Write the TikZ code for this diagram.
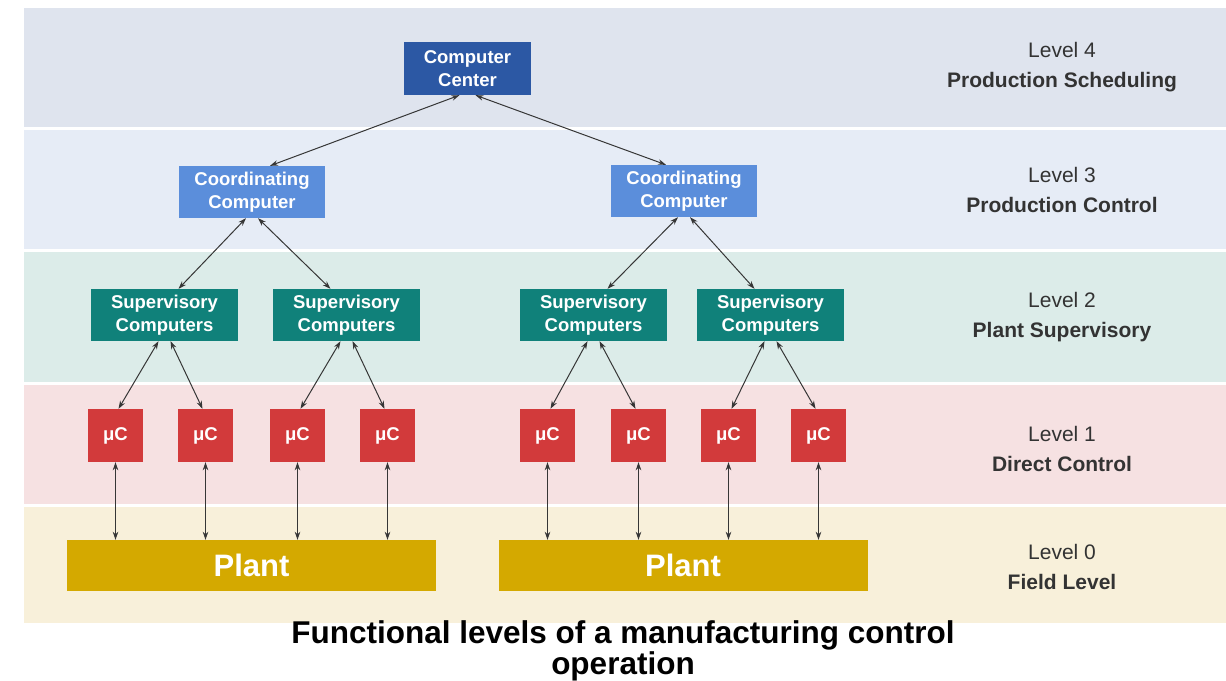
\documentclass[tikz,border=0pt]{standalone}
\usepackage{fontspec}
\setmainfont{Liberation Sans}
\usetikzlibrary{arrows.meta}
\definecolor{bandfour}{HTML}{DFE4EE}
\definecolor{bandthree}{HTML}{E6ECF6}
\definecolor{bandtwo}{HTML}{DCECE9}
\definecolor{bandone}{HTML}{F6E1E2}
\definecolor{bandzero}{HTML}{F8F0DA}
\definecolor{ccblue}{HTML}{2C58A4}
\definecolor{coblue}{HTML}{5B8EDB}
\definecolor{supteal}{HTML}{10817A}
\definecolor{mcred}{HTML}{D23A3B}
\definecolor{plantgold}{HTML}{D4A900}
\definecolor{labelgray}{HTML}{333333}
\definecolor{linkgray}{HTML}{363636}

\begin{document}
\begin{tikzpicture}[x=1pt,y=-1pt,
    box/.style={text=white, align=center, inner sep=0pt, font=\bfseries\fontsize{18.5}{23}\selectfont},
    ccbox/.style={box, fill=ccblue, minimum width=127pt, minimum height=53pt},
    coordbox/.style={box, fill=coblue, minimum width=146pt, minimum height=52pt},
    supbox/.style={box, fill=supteal, minimum width=147pt, minimum height=52pt},
    mcbox/.style={box, fill=mcred, minimum width=55pt, minimum height=53pt},
    plantbox/.style={box, fill=plantgold, minimum width=369pt, minimum height=51pt, font=\bfseries\fontsize{31}{36}\selectfont},
    levellabel/.style={text=labelgray, align=center, font=\fontsize{21}{30}\selectfont},
    caption/.style={text=black, align=center, font=\bfseries\fontsize{31.5}{28}\selectfont},
    link/.style={draw=linkgray, line width=1pt, {Stealth[length=8pt,width=5.5pt]}-{Stealth[length=8pt,width=5.5pt]}}
]
    \useasboundingbox (0,0) rectangle (1226,680);
    \fill[bandfour] (24,8) rectangle (1226,127);
    \fill[bandthree] (24,130) rectangle (1226,249);
    \fill[bandtwo] (24,252) rectangle (1226,382);
    \fill[bandone] (24,385) rectangle (1226,504);
    \fill[bandzero] (24,507) rectangle (1226,623);

    \node[levellabel] (lvfour) at (1062,67) {Level 4\\\textbf{Production Scheduling}};
    \node[levellabel] (lvthree) at (1062,190) {Level 3\\\textbf{Production Control}};
    \node[levellabel] (lvtwo) at (1062,317) {Level 2\\\textbf{Plant Supervisory}};
    \node[levellabel] (lvone) at (1062,449) {Level 1\\\textbf{Direct Control}};
    \node[levellabel] (lvzero) at (1062,567) {Level 0\\\textbf{Field Level}};

    \node[ccbox] (cc) at (467.5,68.5) {Computer\\Center};
    \node[coordbox] (coL) at (252,192) {Coordinating\\Computer};
    \node[coordbox] (coR) at (684,191) {Coordinating\\Computer};
    \node[supbox] (supA) at (164.5,315) {Supervisory\\Computers};
    \node[supbox] (supB) at (346.5,315) {Supervisory\\Computers};
    \node[supbox] (supC) at (593.5,315) {Supervisory\\Computers};
    \node[supbox] (supD) at (770.5,315) {Supervisory\\Computers};
    \foreach \i/\x in {1/115.5,2/205.5,3/297.5,4/387.5,5/547.5,6/638.5,7/728.5,8/818.5}
        \node[mcbox] (mc\i) at (\x,435.5) {μC};
    \node[plantbox] (plantL) at (251.5,565.5) {Plant};
    \node[plantbox] (plantR) at (683,565.5) {Plant};

    \draw[link] ([xshift=-8pt]cc.south) -- ([xshift=18pt]coL.north);
    \draw[link] ([xshift=8pt]cc.south) -- ([xshift=-18pt]coR.north);
    \foreach \c/\a/\b in {coL/supA/supB,coR/supC/supD} {
        \draw[link] ([xshift=-6pt]\c.south) -- ([xshift=14pt]\a.north);
        \draw[link] ([xshift=6pt]\c.south) -- ([xshift=-16pt]\b.north);
    }
    \foreach \s/\a/\b in {supA/mc1/mc2,supB/mc3/mc4,supC/mc5/mc6,supD/mc7/mc8} {
        \draw[link] ([xshift=-6pt]\s.south) -- ([xshift=3pt]\a.north);
        \draw[link] ([xshift=6pt]\s.south) -- ([xshift=-3pt]\b.north);
    }
    \foreach \i/\p in {1/plantL,2/plantL,3/plantL,4/plantL,5/plantR,6/plantR,7/plantR,8/plantR}
        \draw[link] (mc\i.south) -- (mc\i.south |- \p.north);

    \node[caption] (title) at (623,651) {Functional levels of a manufacturing control\\operation};
\end{tikzpicture}
\end{document}
